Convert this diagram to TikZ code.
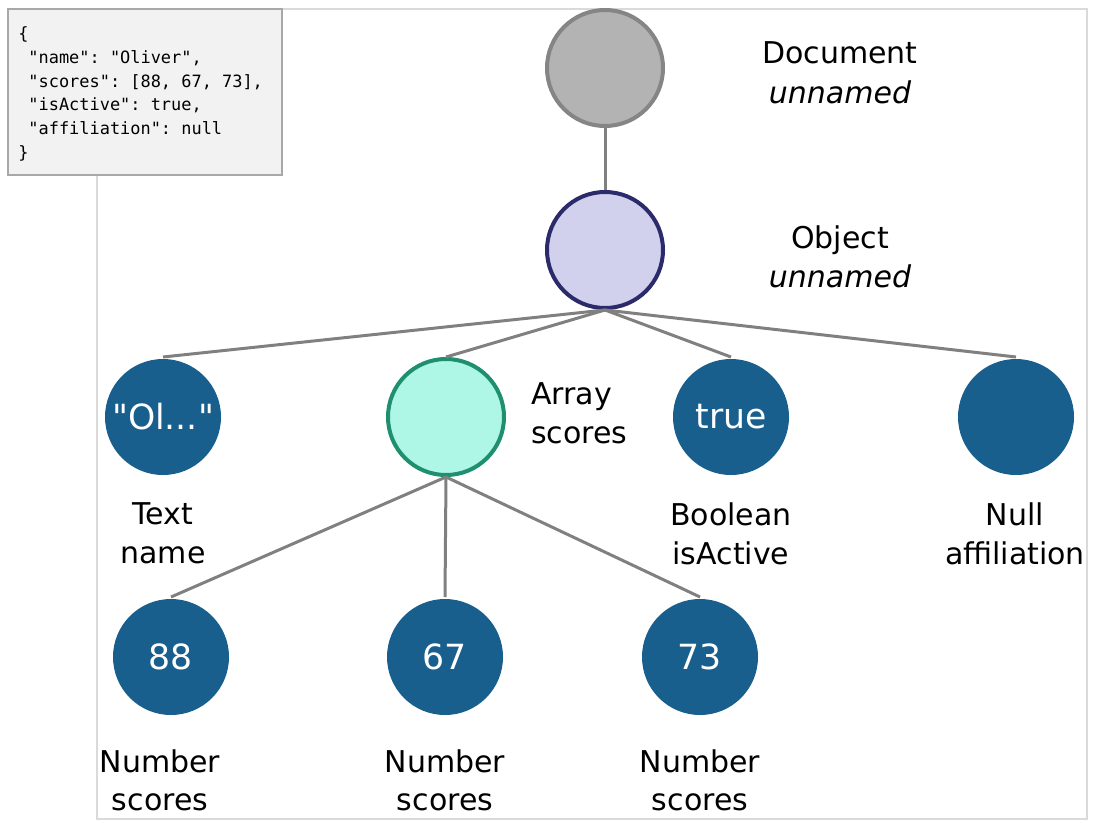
\documentclass[tikz,border=0pt]{standalone}
\usepackage{fontspec}
\setmainfont{DejaVu Sans}
\setmonofont{DejaVu Sans Mono}

\definecolor{framegray}{HTML}{DADADA}
\definecolor{boxfill}{HTML}{F2F2F2}
\definecolor{boxline}{HTML}{A8A8A8}
\definecolor{edgegray}{HTML}{808080}
\definecolor{docfill}{HTML}{B3B3B3}
\definecolor{docline}{HTML}{858585}
\definecolor{objfill}{HTML}{D1D1EE}
\definecolor{objline}{HTML}{2B2B6B}
\definecolor{arrfill}{HTML}{AEF6E6}
\definecolor{arrline}{HTML}{1F8F6F}
\definecolor{valblue}{HTML}{185F8E}

\tikzset{
  jnode/.style={circle,minimum size=87pt,inner sep=0pt,line width=3pt},
  valnode/.style={jnode,fill=valblue,text=white,font=\fontsize{26}{30}\selectfont},
  lbl/.style={anchor=base,inner sep=0pt,font=\fontsize{22.5}{28}\selectfont},
  code/.style={anchor=base west,inner sep=0pt,font=\ttfamily\fontsize{12.7}{16}\selectfont},
  edge/.style={draw=edgegray,line width=2.25pt}
}

\begin{document}
\begin{tikzpicture}[x=0.75pt,y=0.75pt,yscale=-1,xscale=1]
\path (0,0) rectangle (1100,828); %set diagram size

%Shape: Frame
\draw [framegray, line width=1.1pt] (97,9) rectangle (1087,819) ;

%Shape: JSON box
\draw [fill=boxfill, draw=boxline, line width=1.1pt] (8,9) rectangle (282,175) ;
% Text Node
\node [code] (json0) at (18,40) {\{};
\node [code] (json1) at (18,63.6) {\ "name": "Oliver",};
\node [code] (json2) at (18,87.2) {\ "scores": [88, 67, 73],};
\node [code] (json3) at (18,110.8) {\ "isActive": true,};
\node [code] (json4) at (18,134.4) {\ "affiliation": null};
\node [code] (json5) at (18,158) {\}};

%Shape: Circle
\node [jnode, fill=docfill, draw=docline] (doc) at (605,68) {};
\node [jnode, fill=objfill, draw=objline] (obj) at (605,250) {};
\node [valnode] (name) at (163,417) {\textquotedbl Ol...\textquotedbl};
\node [jnode, fill=arrfill, draw=arrline] (scores) at (446,417) {};
\node [valnode] (active) at (731,417) {true};
\node [valnode] (affil) at (1016,417) {};
\node [valnode] (sa) at (171,657) {88};
\node [valnode] (sb) at (445,657) {67};
\node [valnode] (sc) at (700,657) {73};

%Straight Lines
\draw [edge] (doc.south) -- (obj.north) ;
\draw [edge] (obj.south) -- (name.north) ;
\draw [edge] (obj.south) -- (scores.north) ;
\draw [edge] (obj.south) -- (active.north) ;
\draw [edge] (obj.south) -- (affil.north) ;
\draw [edge] (scores.south) -- (sa.north) ;
\draw [edge] (scores.south) -- (sb.north) ;
\draw [edge] (scores.south) -- (sc.north) ;

% Text Node
\node [lbl] (doclbl) at (840,63) {Document};
\node [lbl] (docname) at (840,103) {\itshape unnamed};
\node [lbl] (objlbl) at (840,248) {Object};
\node [lbl] (objname) at (840,287) {\itshape unnamed};
\node [lbl] (namelbl) at (163,524) {Text};
\node [lbl] (namename) at (163,563) {name};
\node [lbl, anchor=base west] (scoreslbl) at (531,404) {Array};
\node [lbl, anchor=base west] (scoresname) at (531,443) {scores};
\node [lbl] (activelbl) at (731,525) {Boolean};
\node [lbl] (activename) at (731,564) {isActive};
\node [lbl] (affillbl) at (1015,525) {Null};
\node [lbl] (affilname) at (1015,564) {affiliation};
\node [lbl] (salbl) at (160,772) {Number};
\node [lbl] (saname) at (160,810) {scores};
\node [lbl] (sblbl) at (445,772) {Number};
\node [lbl] (sbname) at (445,810) {scores};
\node [lbl] (sclbl) at (700,772) {Number};
\node [lbl] (scname) at (700,810) {scores};

\end{tikzpicture}
\end{document}
